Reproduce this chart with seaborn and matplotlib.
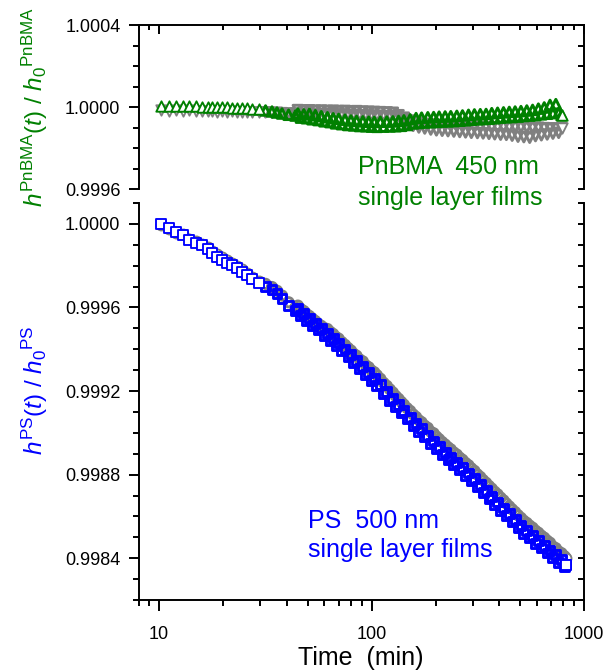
import matplotlib
matplotlib.use("Agg")
import matplotlib.pyplot as plt
import numpy as np
import pandas as pd
import seaborn as sns
from matplotlib.ticker import MultipleLocator, FixedLocator, NullFormatter, LogLocator

# ---------------- data ----------------
# measurement times (min), shared by all series
time_min = [
    10.2, 11.1, 12.0, 12.9, 13.8, 14.9, 15.9, 16.9, 17.8, 18.8,
    19.8, 20.9, 22.1, 23.3, 24.6, 25.9, 27.4, 29.4, 31.7, 34.0,
    35.9, 37.9, 40.7, 43.8,
    45, 46.5, 48, 49.5, 51, 52.7, 54.4, 56.2, 58, 60,
    62, 64, 66, 68, 70, 72.5, 75, 77.5, 80, 82.5,
    85, 88, 91, 94, 97, 100, 103, 106, 110, 114,
    118, 122, 126, 130, 134, 138, 142, 147, 152, 157,
    162, 167, 172, 178, 184, 190, 196, 202, 208, 215,
    222, 229, 236, 244, 252, 260, 268, 277, 286, 295,
    305, 315, 325, 335, 346, 357, 368, 380, 392, 405,
    418, 431, 445, 459, 474, 489, 505, 521, 538, 555,
    573, 591, 610, 630, 650, 671, 692, 714, 737, 760,
    784, 808, 820,
]

# h(t)/h0 - 1, in parts per million
ps_blue_ppm = [
    0, -21, -40, -53, -77, -93, -101, -122, -141, -157,
    -173, -186, -197, -213, -229, -245, -266, -285, -298, -314,
    -333, -357, -389, -413,
    -405, -437, -429, -462, -453, -485, -476, -508, -500, -533,
    -524, -557, -548, -581, -570, -605, -599, -635, -627, -663,
    -654, -691, -683, -720, -713, -748, -739, -775, -770, -812,
    -804, -844, -836, -876, -866, -905, -894, -934, -925, -964,
    -954, -992, -981, -1019, -1011, -1050, -1039, -1076, -1066, -1103,
    -1092, -1128, -1116, -1153, -1142, -1178, -1166, -1203, -1192, -1229,
    -1220, -1258, -1248, -1286, -1276, -1314, -1304, -1342, -1331, -1370,
    -1360, -1397, -1388, -1426, -1416, -1454, -1443, -1480, -1468, -1503,
    -1491, -1528, -1515, -1551, -1539, -1575, -1562, -1597, -1584, -1619,
    -1606, -1639, -1632,
]

ps_gray_ppm = [
    -4, -25, -44, -50, -70, -83, -94, -110, -128, -146,
    -160, -175, -186, -200, -218, -233, -252, -272, -287, -302,
    -320, -343, -375, -400,
    -391, -408, -417, -432, -441, -454, -465, -479, -488, -499,
    -503, -517, -527, -541, -549, -566, -579, -594, -606, -622,
    -631, -649, -658, -677, -686, -702, -710, -724, -741, -761,
    -775, -792, -807, -824, -837, -852, -865, -882, -895, -912,
    -924, -940, -949, -966, -976, -995, -1002, -1018, -1030, -1044,
    -1056, -1069, -1079, -1094, -1104, -1119, -1129, -1144, -1155, -1170,
    -1182, -1199, -1211, -1226, -1239, -1254, -1267, -1282, -1294, -1310,
    -1323, -1338, -1352, -1366, -1379, -1394, -1407, -1421, -1431, -1444,
    -1454, -1468, -1478, -1492, -1502, -1516, -1526, -1544, -1552, -1568,
    -1576, -1590, -1598,
]

pnbma_green_ppm = [
    5, 6, 4, 5, 3, 4, 2, 2, 0, 1,
    -1, -2, -3, -3, -5, -6, -8, -12, -17, -22,
    -27, -32, -38, -42,
    -32, -52, -36, -55, -33, -60, -40, -64, -45, -70,
    -50, -74, -55, -80, -58, -84, -62, -88, -66, -90,
    -68, -93, -70, -94, -72, -96, -73, -97, -72, -96,
    -71, -95, -70, -94, -68, -92, -65, -88, -60, -80,
    -54, -78, -52, -76, -50, -74, -49, -73, -47, -71,
    -46, -70, -45, -69, -43, -67, -41, -65, -38, -62,
    -36, -60, -35, -59, -34, -57, -30, -55, -28, -52,
    -26, -50, -24, -49, -22, -47, -20, -44, -17, -42,
    -14, -40, -8, -36, -2, -33, 10, -30, 14, -28,
    -40,
]

pnbma_gray_ppm = [
    -15, -18, -16, -19, -17, -20, -18, -21, -19, -22,
    -20, -22, -21, -23, -22, -24, -23, -25, -26, -28,
    -28, -30, -31, -32,
    -15, -33, -17, -34, -16, -35, -18, -34, -17, -36,
    -19, -35, -18, -37, -20, -36, -19, -38, -21, -39,
    -20, -40, -22, -41, -23, -42, -24, -43, -25, -44,
    -26, -45, -28, -50, -40, -62, -52, -80, -66, -92,
    -75, -100, -80, -105, -83, -110, -86, -114, -89, -116,
    -91, -118, -93, -120, -94, -122, -95, -124, -96, -126,
    -97, -127, -98, -129, -98, -131, -99, -133, -100, -135,
    -99, -136, -100, -140, -99, -145, -100, -147, -101, -150,
    -102, -142, -101, -138, -103, -134, -104, -130, -105, -126,
    -102,
]

x_ticks = [10, 100, 1000]
x_tick_labels = ["10", "100", "1000"]
top_yticks = [0.9996, 1.0000, 1.0004]
bot_yticks = [0.9984, 0.9988, 0.9992, 0.9996, 1.0000]

# ---------------- style ----------------
sns.set_theme(style="ticks")
plt.rcParams["font.family"] = ["Liberation Sans", "DejaVu Sans"]
plt.rcParams["mathtext.fontset"] = "custom"
plt.rcParams["mathtext.rm"] = "Liberation Sans"
plt.rcParams["mathtext.it"] = "Liberation Sans:italic"
plt.rcParams["mathtext.bf"] = "Liberation Sans:bold"

GREEN = "#008000"
BLUE = "#0000FF"
GRAY = "#808080"
LW = 1.4
MLW_SPARSE = 1.35
MLW_DENSE = 2.1
SPARSE_END = 30  # min: below this the markers are drawn open with white fill

W_PX, H_PX = 607, 670
fig = plt.figure(figsize=(W_PX / 100, H_PX / 100), dpi=100)
fig.patch.set_facecolor("white")
X0, X1 = 138.5, 584.0


def rect(top, bottom):
    return [X0 / W_PX, 1 - bottom / H_PX, (X1 - X0) / W_PX, (bottom - top) / H_PX]


ax_t = fig.add_axes(rect(25, 189))
ax_b = fig.add_axes(rect(203, 600))


def to_ratio(ppm):
    return 1.0 + np.asarray(ppm, dtype=float) * 1e-6


n_top = len(pnbma_green_ppm)
df_top = pd.DataFrame({
    "time": time_min[:n_top],
    "green": to_ratio(pnbma_green_ppm),
    "gray": to_ratio(pnbma_gray_ppm),
})
df_bot = pd.DataFrame({
    "time": time_min,
    "blue": to_ratio(ps_blue_ppm),
    "gray": to_ratio(ps_gray_ppm),
})


def draw(df, col, marker, size, color, ax, z):
    sparse = df[df["time"] < SPARSE_END]
    dense = df[df["time"] >= SPARSE_END]
    sns.scatterplot(data=dense, x="time", y=col, marker=marker, s=size * 0.85,
                    facecolor="none", edgecolor=color, linewidth=MLW_DENSE,
                    ax=ax, zorder=z, legend=False)
    sns.scatterplot(data=sparse, x="time", y=col, marker=marker, s=size,
                    facecolor="white", edgecolor=color, linewidth=MLW_SPARSE,
                    ax=ax, zorder=z + 0.5, legend=False)
    # final point drawn open again, as in the reference
    sns.scatterplot(data=dense.tail(1), x="time", y=col, marker=marker, s=size,
                    facecolor="white", edgecolor=color, linewidth=MLW_SPARSE,
                    ax=ax, zorder=z + 0.6, legend=False)


draw(df_top, "gray", "v", 56, GRAY, ax_t, 2)
draw(df_top, "green", "^", 56, GREEN, ax_t, 3)
draw(df_bot, "gray", "o", 52, GRAY, ax_b, 2)
draw(df_bot, "blue", "s", 48, BLUE, ax_b, 3)

for ax in (ax_t, ax_b):
    ax.set_xscale("log")
    ax.set_xlim(8, 1000)
    ax.set_xlabel("")
    ax.set_ylabel("")
    ax.grid(False)
    ax.set_facecolor("white")
    for sp in ax.spines.values():
        sp.set_color("black")
        sp.set_linewidth(LW)
    ax.spines["right"].set_visible(False)
    ax.xaxis.set_major_locator(FixedLocator(x_ticks))
    ax.set_xticklabels(x_tick_labels)
    ax.xaxis.set_minor_locator(LogLocator(base=10, subs=np.arange(2, 10), numticks=30))
    ax.xaxis.set_minor_formatter(NullFormatter())
    ax.yaxis.set_minor_locator(MultipleLocator(0.0001))
    ax.tick_params(axis="y", which="both", direction="out", left=True, right=False,
                   color="black", width=LW, labelsize=13, pad=6, labelcolor="black")
    ax.tick_params(axis="y", which="major", length=7)
    ax.tick_params(axis="y", which="minor", length=4.3)
    sec = ax.secondary_yaxis("right")
    sec.yaxis.set_major_locator(MultipleLocator(0.0001))
    sec.yaxis.set_major_formatter(NullFormatter())
    sec.yaxis.set_minor_locator(plt.NullLocator())
    sec.tick_params(axis="y", which="major", direction="in", length=4.3,
                    width=LW, color="black")
    for sp in sec.spines.values():
        sp.set_linewidth(LW)
        sp.set_color("black")

# top panel
ax_t.set_ylim(0.9996, 1.0004)
ax_t.set_yticks(top_yticks)
ax_t.set_yticklabels([f"{v:.4f}" for v in top_yticks])
ax_t.spines["bottom"].set_visible(False)
ax_t.tick_params(axis="x", which="both", direction="in", top=True, bottom=False,
                 labeltop=False, labelbottom=False, width=LW, color="black")
ax_t.tick_params(axis="x", which="major", length=6.5)
ax_t.tick_params(axis="x", which="minor", length=3.6)

# bottom panel
ax_b.set_ylim(0.9982, 1.0001)
ax_b.set_yticks(bot_yticks)
ax_b.set_yticklabels([f"{v:.4f}" for v in bot_yticks])
ax_b.spines["top"].set_visible(False)
ax_b.tick_params(axis="x", which="both", direction="out", top=False, bottom=True,
                 labelbottom=True, width=LW, color="black", labelsize=13,
                 pad=10.5, labelcolor="black")
ax_b.tick_params(axis="x", which="major", length=8)
ax_b.tick_params(axis="x", which="minor", length=4.3)

# axis titles
fig.text(361 / W_PX, 1 - 665 / H_PX, "Time  (min)", fontsize=18,
         ha="center", va="baseline", color="black")
fig.text(50 / W_PX, 1 - 107 / H_PX,
         r"$h^{\mathrm{PnBMA}}(t)\ /\ h_0{}^{\mathrm{PnBMA}}$",
         rotation=90, color=GREEN, fontsize=17.5, ha="right", va="center")
fig.text(50 / W_PX, 1 - 390 / H_PX,
         r"$h^{\mathrm{PS}}(t)\ /\ h_0{}^{\mathrm{PS}}$",
         rotation=90, color=BLUE, fontsize=17.5, ha="right", va="center")

# annotations
fig.text(358 / W_PX, 1 - 174 / H_PX, "PnBMA  450 nm", color=GREEN, fontsize=18,
         ha="left", va="baseline")
fig.text(358 / W_PX, 1 - 205 / H_PX, "single layer films", color=GREEN, fontsize=18,
         ha="left", va="baseline")
fig.text(308 / W_PX, 1 - 528 / H_PX, "PS  500 nm", color=BLUE, fontsize=18,
         ha="left", va="baseline")
fig.text(308 / W_PX, 1 - 557 / H_PX, "single layer films", color=BLUE, fontsize=18,
         ha="left", va="baseline")

fig.savefig("out.png", dpi=100, facecolor="white")
